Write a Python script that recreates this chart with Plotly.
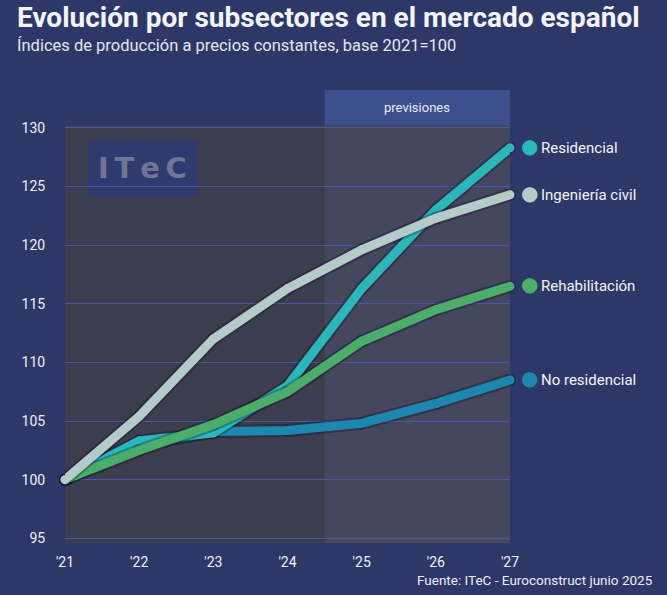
import plotly.graph_objects as go

years = [2021, 2022, 2023, 2024, 2025, 2026, 2027]
tick_labels = ["'21", "'22", "'23", "'24", "'25", "'26", "'27"]

residencial = [100, 103.3, 104.0, 108.0, 116.3, 123.0, 128.3]
ingenieria = [100, 105.4, 112.0, 116.3, 119.6, 122.3, 124.3]
rehabilitacion = [100, 102.5, 104.7, 107.5, 111.8, 114.5, 116.5]
no_residencial = [100, 102.9, 104.1, 104.2, 104.8, 106.5, 108.5]

series_names = ["No residencial", "Residencial", "Rehabilitación", "Ingeniería civil"]
series_values = [no_residencial, residencial, rehabilitacion, ingenieria]
series_colors = ["#1d87b0", "#2bb7b9", "#4cad6b", "#b4cbca"]

forecast_start = 2024.5
y_ticks = [95, 100, 105, 110, 115, 120, 125, 130]

BG = "#2e3868"
fig = go.Figure()

for name, vals, col in zip(series_names, series_values, series_colors):
    fig.add_trace(go.Scatter(x=years, y=vals, mode="lines+markers",
                             line=dict(color="rgba(10,12,25,0.30)", width=13),
                             marker=dict(size=12, color="rgba(10,12,25,0.30)"),
                             hoverinfo="skip", showlegend=False, cliponaxis=False))
    fig.add_trace(go.Scatter(x=years, y=vals, mode="lines+markers", name=name,
                             line=dict(color=col, width=9),
                             marker=dict(size=9, color=col, line=dict(width=0)),
                             showlegend=False, cliponaxis=False))

annotations = []
for name, vals, col in zip(series_names, series_values, series_colors):
    annotations.append(dict(
        x=years[-1], y=vals[-1], xref="x", yref="y", xanchor="center", yanchor="middle",
        xshift=19, yshift=2, showarrow=False, text="●",
        font=dict(family="DejaVu Sans, sans-serif", size=20, color=col)))
    annotations.append(dict(
        x=years[-1], y=vals[-1], xref="x", yref="y", xanchor="left", yanchor="middle",
        xshift=29, yshift=0, showarrow=False, text=name,
        font=dict(family="Roboto, sans-serif", size=15, color="#f2f3f7")))

annotations += [
    dict(x=-0.112, y=1.256, xref="paper", yref="paper", xanchor="left", yanchor="middle",
         showarrow=False, text="<b>Evolución por subsectores en el mercado español</b>",
         font=dict(family="Roboto, sans-serif", size=28, color="#f3f4f8")),
    dict(x=-0.112, y=1.189, xref="paper", yref="paper", xanchor="left", yanchor="middle",
         showarrow=False, text="Índices de producción a precios constantes, base 2021=100",
         font=dict(family="Roboto, sans-serif", size=16.5, color="#e4e6ef")),
    dict(x=(forecast_start + years[-1]) / 2, y=1.042, xref="x", yref="paper",
         xanchor="center", yanchor="middle", showarrow=False, text="previsiones",
         font=dict(family="Roboto, sans-serif", size=13, color="#e8eaf3")),
    dict(x=1.326, y=-0.088, xref="paper", yref="paper", xanchor="right", yanchor="middle",
         showarrow=False, text="Fuente: ITeC - Euroconstruct junio 2025",
         font=dict(family="Roboto, sans-serif", size=13.5, color="#eceef5")),
    dict(x=0.175, y=0.897, xref="paper", yref="paper", xanchor="center", yanchor="middle",
         showarrow=False, text="<b>I\u2009T\u2009e\u2009C</b>",
         font=dict(family="DejaVu Sans, sans-serif", size=29, color="#6e7595")),
]

shapes = [
    dict(type="rect", xref="x", yref="paper", x0=forecast_start, x1=years[-1], y0=0, y1=1,
         fillcolor="#44475e", line=dict(width=0), layer="below"),
    dict(type="rect", xref="x", yref="paper", x0=forecast_start, x1=years[-1], y0=1, y1=1.084,
         fillcolor="#3e4f8e", line=dict(width=0), layer="below"),
    dict(type="rect", xref="paper", yref="paper", x0=0.052, x1=0.299, y0=0.828, y1=0.964,
         fillcolor="#2f3a6e", line=dict(width=0), layer="below"),
]

fig.update_layout(
    width=667, height=595, autosize=False,
    margin=dict(l=65, r=157, t=125, b=52),
    paper_bgcolor=BG, plot_bgcolor="#3c3d4e",
    shapes=shapes, annotations=annotations,
    xaxis=dict(range=[years[0], years[-1]], tickvals=years, ticktext=tick_labels,
               showgrid=False, zeroline=False, showline=False,
               ticks="outside", ticklen=6, tickcolor="rgba(0,0,0,0)",
               tickfont=dict(family="Roboto, sans-serif", size=14, color="#eef0f6")),
    yaxis=dict(range=[94.6, 130.25], tickvals=y_ticks, showgrid=True,
               gridcolor="#4856a8", gridwidth=1, zeroline=False, showline=False,
               ticks="outside", ticklen=16, tickcolor="rgba(0,0,0,0)",
               tickfont=dict(family="Roboto, sans-serif", size=14, color="#eef0f6")),
)

fig.write_html("out.html", config={"displayModeBar": False},
               post_script="document.body.style.margin='0';")
